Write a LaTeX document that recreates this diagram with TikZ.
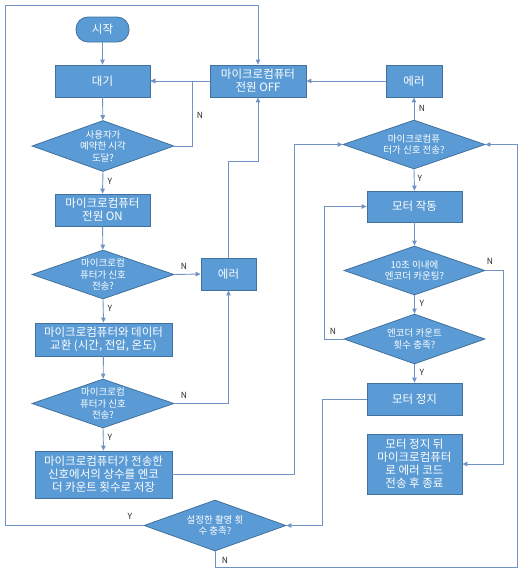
\documentclass[tikz,border=0pt]{standalone}
\usepackage{fontspec}
\setmainfont{Noto Sans CJK KR}
\usetikzlibrary{shapes.geometric,arrows.meta}
\definecolor{boxfill}{HTML}{5B9BD5}
\definecolor{boxline}{HTML}{41719C}
\definecolor{conn}{RGB}{112,146,196}
\definecolor{lbl}{RGB}{40,40,40}
\tikzset{
  proc/.style={rectangle,draw=boxline,fill=boxfill,line width=0.8pt,text=white,align=center,inner sep=0pt,font=\fontsize{11.5}{13}\selectfont},
  term/.style={proc,rounded corners=12pt},
  dia/.style={diamond,draw=boxline,fill=boxfill,line width=0.8pt,inner sep=0pt},
  dtext/.style={text=white,align=center,inner sep=0pt,font=\fontsize{9.5}{11.5}\selectfont},
  yn/.style={text=lbl,inner sep=0pt,font=\fontsize{8.5}{10}\selectfont},
  flow/.style={draw=conn,line width=0.9pt,-{Triangle[length=5pt,width=4.5pt]}},
  line/.style={draw=conn,line width=0.9pt}
}
\begin{document}
\begin{tikzpicture}[x=1pt,y=-1pt]
\useasboundingbox (0,0) rectangle (522,573);
% left column
\node[term,minimum width=53pt,minimum height=25pt] (start) at (102.5,29.5) {시작};
\node[proc,minimum width=95pt,minimum height=32pt] (wait) at (102.5,81) {대기};
\node[dia,minimum width=142pt,minimum height=51pt] (d1) at (103,146) {};
\node[dtext] (d1t) at (d1) {사용자가\\예약한 시각\\도달?};
\node[proc,minimum width=95pt,minimum height=32pt] (on) at (102.5,210) {마이크로컴퓨터\\전원 ON};
\node[dia,minimum width=142pt,minimum height=49pt] (d2) at (103,274.5) {};
\node[dtext] (d2t) at (d2) {마이크로컴\\퓨터가 신호\\전송?};
\node[proc,minimum width=55pt,minimum height=32pt] (err1) at (228.5,274) {에러};
\node[proc,minimum width=137pt,minimum height=33pt] (xch) at (103.5,339.5) {마이크로컴퓨터와 데이터\\교환 (시간, 전압, 온도)};
\node[dia,minimum width=142pt,minimum height=49pt] (d3) at (103,403.5) {};
\node[dtext] (d3t) at (d3) {마이크로컴\\퓨터가 신호\\전송?};
\node[proc,minimum width=137pt,minimum height=47pt] (store) at (103.5,474.5) {마이크로컴퓨터가 전송한\\신호에서의 상수를 엔코\\더 카운트 횟수로 저장};
\node[dia,minimum width=142pt,minimum height=51pt] (d4) at (215,525.5) {};
\node[dtext] (d4t) at (d4) {설정한 촬영 횟\\수 충족?};
% middle/right
\node[proc,minimum width=96pt,minimum height=32pt] (off) at (258,81) {마이크로컴퓨터\\전원 OFF};
\node[proc,minimum width=56pt,minimum height=32pt] (err2) at (414,81) {에러};
\node[dia,minimum width=142pt,minimum height=49pt] (r1) at (414,144.5) {};
\node[dtext] (r1t) at (r1) {마이크로컴퓨\\터가 신호 전송?};
\node[proc,minimum width=95pt,minimum height=31pt] (motor) at (414.5,206.5) {모터 작동};
\node[dia,minimum width=141pt,minimum height=49pt] (r2) at (414.5,270.5) {};
\node[dtext] (r2t) at (r2) {10초 이내에\\엔코더 카운팅?};
\node[dia,minimum width=141pt,minimum height=50pt] (r3) at (414.5,339) {};
\node[dtext] (r3t) at (r3) {엔코더 카운트\\횟수 충족?};
\node[proc,minimum width=95pt,minimum height=32pt] (stop) at (414.5,399) {모터 정지};
\node[proc,minimum width=95pt,minimum height=60pt] (final) at (414.5,464) {모터 정지 뒤\\마이크로컴퓨터\\로 에러 코드\\전송 후 종료};
% helper coordinates
\coordinate (lt) at (5,5);
\coordinate (rb) at (517,567);
% connectors
\draw[flow] (start) -- (wait);
\draw[flow] (wait) -- (d1);
\draw[flow] (off.west) -- (wait.east);
\draw[flow] (d1.east) -- ++(18,0) |- (wait.east);
\draw[flow] (d1.south) -- (on.north);
\draw[flow] (on) -- (d2);
\draw[flow] (d2.east) -- (err1.west);
\draw[flow] (d2.south) -- (xch.north);
\draw[flow] (xch) -- (d3);
\draw[flow] (d3.east) -| (err1.south);
\draw[flow] (d3.south) -- (store.north);
\draw[flow] (store.east) -- ++(122.5,0) |- (r1.west);
\draw[flow] (err1.north) -- ++(0,-96) -| (off.south);
\draw[flow] (d4.west) -| (lt) -| (off.north);
\draw[flow] (d4.south) |- (rb) |- (r1.east);
\draw[flow] (err2.west) -- (off.east);
\draw[flow] (r1.north) -- (err2.south);
\draw[flow] (r1.south) -- (motor.north);
\draw[flow] (motor) -- (r2);
\draw[flow] (r2.east) -- ++(18,0) |- (final.east);
\draw[flow] (r2.south) -- (r3.north);
\draw[flow] (r3.west) -- ++(-19.5,0) |- (motor.west);
\draw[flow] (r3.south) -- (stop.north);
\draw[flow] (stop.west) -- ++(-44,0) |- (d4.east);
% labels
\node[yn] (n1) at (200,115) {N};
\node[yn] (y1) at (110,181) {Y};
\node[yn] (n2) at (184,266) {N};
\node[yn] (y2) at (110,308) {Y};
\node[yn] (n3) at (184,395) {N};
\node[yn] (y3) at (110,437) {Y};
\node[yn] (y4) at (130,516) {Y};
\node[yn] (n4) at (225,560) {N};
\node[yn] (n5) at (422,108) {N};
\node[yn] (y5) at (420,178) {Y};
\node[yn] (n6) at (490,261) {N};
\node[yn] (y6) at (422,303) {Y};
\node[yn] (n7) at (333,331) {N};
\node[yn] (y7) at (422,372) {Y};
\end{tikzpicture}
\end{document}
